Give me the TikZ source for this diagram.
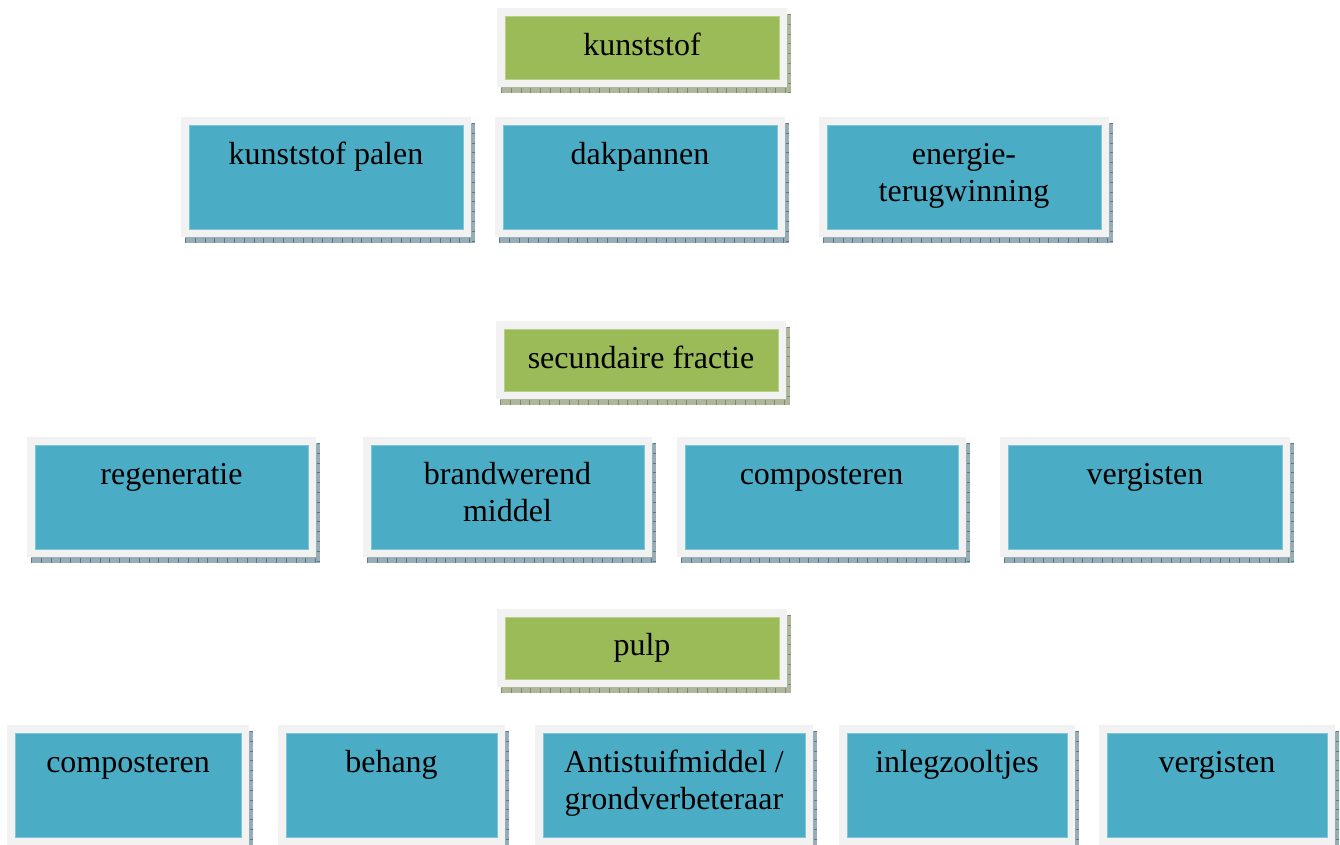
\documentclass[tikz,border=0pt]{standalone}
\usepackage{fontspec}
\setmainfont{Liberation Serif}
\definecolor{greenfill}{HTML}{9BBB59}
\definecolor{greenedge}{HTML}{B9D08A}
\definecolor{greenshadow}{HTML}{AEB69C}
\definecolor{greentick}{HTML}{7F8C66}
\definecolor{bluefill}{HTML}{4BACC6}
\definecolor{blueedge}{HTML}{7FC5D8}
\definecolor{blueshadow}{HTML}{98AEB6}
\definecolor{bluetick}{HTML}{5B7A86}
\definecolor{framegray}{HTML}{F2F2F2}
\tikzset{
  greenbox/.style={draw=greenedge, fill=greenfill, line width=0.8pt, inner sep=0pt},
  bluebox/.style={draw=blueedge, fill=bluefill, line width=0.8pt, inner sep=0pt},
  greenshade/.style={fill=greenshadow},
  blueshade/.style={fill=blueshadow},
  greenticks/.style={draw=greentick, dash pattern=on 0.8pt off 9pt},
  blueticks/.style={draw=bluetick, dash pattern=on 0.8pt off 9pt},
  lbl/.style={font=\fontsize{32}{37}\selectfont, align=center, inner sep=0pt, text=black},
}
% \card{name}{x1}{y1}{x2}{y2}{green|blue}: coloured tile with light frame and shadow
\newcommand\card[6]{%
  \fill[#6shade] ({#2-4},{#3-2}) rectangle ({#4+12},{#5+14});
  \draw[#6ticks, line width=5pt] ({#2-4},{#5+11}) -- ({#4+12},{#5+11});
  \draw[#6ticks, line width=3pt] ({#4+10},{#3-2}) -- ({#4+10},{#5+14});
  \fill[framegray] ({#2-8},{#3-8}) rectangle ({#4+8},{#5+8});
  \node[#6box, minimum width={(#4-#2)*1pt}, minimum height={(#5-#3)*1pt}]
    (#1) at ({(#2+#4)/2},{(#3+#5)/2}) {};
}
\begin{document}
\begin{tikzpicture}[x=1pt, y=-1pt]
\clip (0,0) rectangle (1340,844);
\fill[white] (0,0) rectangle (1340,844);

% first group: kunststof
\card{kunststof}{505}{16}{779}{79}{green}
\node[lbl, anchor=base] (tkunststof) at (642,55) {kunststof};
\card{palen}{189}{125}{463}{229}{blue}
\node[lbl, anchor=north] (tpalen) at (326,138) {\strut kunststof palen};
\card{dakpannen}{503}{125}{777}{229}{blue}
\node[lbl, anchor=north] (tdakpannen) at (640,138) {\strut dakpannen};
\card{energie}{827}{125}{1101}{229}{blue}
\node[lbl, anchor=north] (tenergie) at (964,138) {\strut energie-\\\strut terugwinning};

% second group: secundaire fractie
\card{secundair}{504}{329}{778}{391}{green}
\node[lbl, anchor=base] (tsecundair) at (641,368) {secundaire fractie};
\card{regeneratie}{35}{445}{308}{549}{blue}
\node[lbl, anchor=north] (tregeneratie) at (171.5,458) {\strut regeneratie};
\card{brandwerend}{371}{445}{644}{549}{blue}
\node[lbl, anchor=north] (tbrandwerend) at (507.5,458) {\strut brandwerend\\\strut middel};
\card{composterenA}{685}{445}{958}{549}{blue}
\node[lbl, anchor=north] (tcomposterenA) at (821.5,458) {\strut composteren};
\card{vergistenA}{1008}{445}{1282}{549}{blue}
\node[lbl, anchor=north] (tvergistenA) at (1145,458) {\strut vergisten};

% third group: pulp
\card{pulp}{505}{617}{779}{679}{green}
\node[lbl, anchor=base] (tpulp) at (642,655) {pulp};
\card{composterenB}{15}{733}{241}{837}{blue}
\node[lbl, anchor=north] (tcomposterenB) at (128,746) {\strut composteren};
\card{behang}{286}{733}{497}{837}{blue}
\node[lbl, anchor=north] (tbehang) at (391.5,746) {\strut behang};
\card{antistuif}{543}{733}{805}{837}{blue}
\node[lbl, anchor=north] (tantistuif) at (674,746) {\strut Antistuifmiddel /\\\strut grondverbeteraar};
\card{inleg}{847}{733}{1067}{837}{blue}
\node[lbl, anchor=north] (tinleg) at (957,746) {\strut inlegzooltjes};
\card{vergistenB}{1107}{733}{1327}{837}{blue}
\node[lbl, anchor=north] (tvergistenB) at (1217,746) {\strut vergisten};
\end{tikzpicture}
\end{document}
